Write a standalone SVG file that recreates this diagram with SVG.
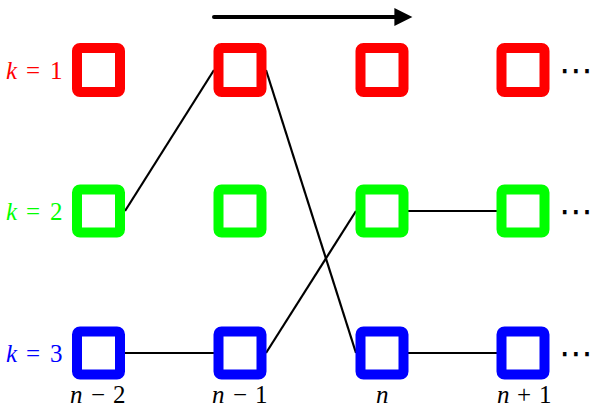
<svg xmlns="http://www.w3.org/2000/svg" width="609" height="419" viewBox="0 0 609 419">
<defs>
<style>
.box{fill:#fff;stroke-width:10;stroke-linejoin:round}
.r{stroke:#ff0000}.g{stroke:#00ff00}.b{stroke:#0000ff}
.it{font-style:italic}
.dots{font-family:"DejaVu Sans",sans-serif;font-size:34px;fill:#000}
.conn{stroke:#000;stroke-width:2.2;fill:none}
</style>
<marker id="ah" viewBox="0 0 10 10" refX="2" refY="5" markerWidth="5" markerHeight="4.5" orient="auto" markerUnits="strokeWidth">
<path d="M0,0 L10,5 L0,10 Z" fill="#000"/>
</marker>
</defs>
<rect width="609" height="419" fill="#fff"/>
<g id="connectors">
<line class="conn" x1="125" y1="211" x2="214" y2="70"/>
<line class="conn" x1="266" y1="70" x2="356" y2="353"/>
<line class="conn" x1="266" y1="353" x2="356" y2="211"/>
<line class="conn" x1="125" y1="353" x2="214" y2="353"/>
<line class="conn" x1="408" y1="211" x2="497" y2="211"/>
<line class="conn" x1="408" y1="353" x2="497" y2="353"/>
<line x1="214" y1="17" x2="398" y2="17" stroke="#000" stroke-width="4" stroke-linecap="round" marker-end="url(#ah)"/>
</g>
<g id="row1">
<g id="n1a"><rect class="box r" x="77" y="48" width="43" height="44" rx="3"/></g>
<g id="n1b"><rect class="box r" x="218.5" y="48" width="43" height="44" rx="3"/></g>
<g id="n1c"><rect class="box r" x="360.5" y="48" width="43" height="44" rx="3"/></g>
<g id="n1d"><rect class="box r" x="501.5" y="48" width="43" height="44" rx="3"/></g>
</g>
<g id="row2">
<g id="n2a"><rect class="box g" x="77" y="189.5" width="43" height="43" rx="3"/></g>
<g id="n2b"><rect class="box g" x="218.5" y="189.5" width="43" height="43" rx="3"/></g>
<g id="n2c"><rect class="box g" x="360.5" y="189.5" width="43" height="43" rx="3"/></g>
<g id="n2d"><rect class="box g" x="501.5" y="189.5" width="43" height="43" rx="3"/></g>
</g>
<g id="row3">
<g id="n3a"><rect class="box b" x="77" y="331.5" width="43" height="43" rx="3"/></g>
<g id="n3b"><rect class="box b" x="218.5" y="331.5" width="43" height="43" rx="3"/></g>
<g id="n3c"><rect class="box b" x="360.5" y="331.5" width="43" height="43" rx="3"/></g>
<g id="n3d"><rect class="box b" x="501.5" y="331.5" width="43" height="43" rx="3"/></g>
</g>
<g id="labels" font-family="Liberation Serif, Times New Roman, serif" font-size="25">
<text y="79" fill="#ff0000"><tspan class="it" x="6">k</tspan><tspan x="26">=</tspan><tspan x="50">1</tspan></text>
<text y="220" fill="#00ff00"><tspan class="it" x="6">k</tspan><tspan x="26">=</tspan><tspan x="50">2</tspan></text>
<text y="362" fill="#0000ff"><tspan class="it" x="6">k</tspan><tspan x="26">=</tspan><tspan x="50">3</tspan></text>
<text y="403"><tspan class="it" x="70">n</tspan><tspan x="91">−</tspan><tspan x="113">2</tspan></text>
<text y="403"><tspan class="it" x="212">n</tspan><tspan x="233">−</tspan><tspan x="255">1</tspan></text>
<text y="403"><tspan class="it" x="376">n</tspan></text>
<text y="403"><tspan class="it" x="497">n</tspan><tspan x="517">+</tspan><tspan x="539">1</tspan></text>
<text class="dots" x="559" y="82">⋯</text>
<text class="dots" x="559" y="223">⋯</text>
<text class="dots" x="559" y="365">⋯</text>
</g>
</svg>
